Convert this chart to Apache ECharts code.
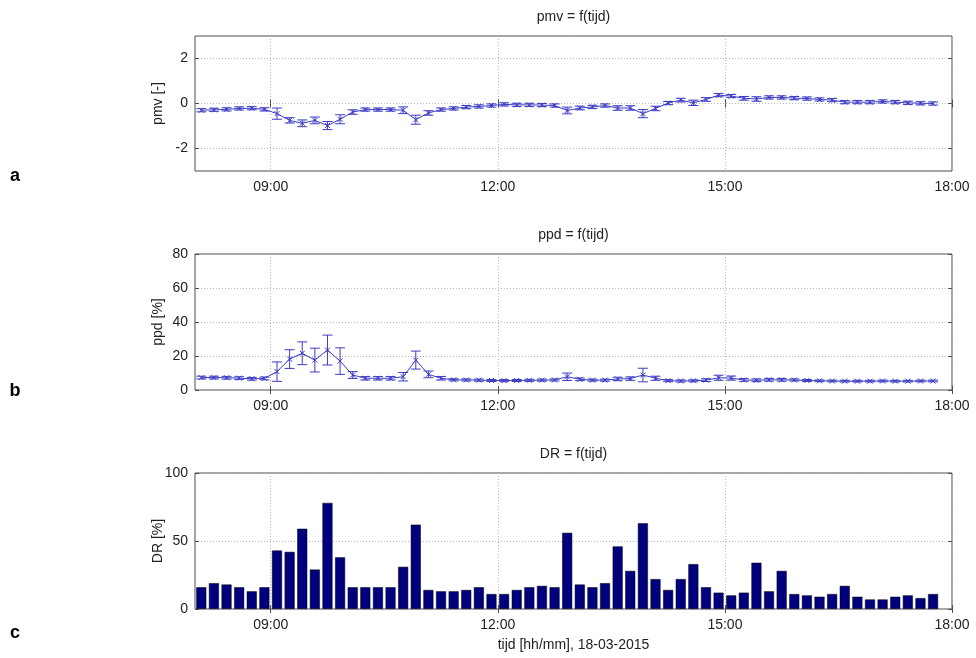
<!DOCTYPE html>
<html>
<head>
<meta charset="utf-8">
<script src="https://cdn.jsdelivr.net/npm/echarts@6/dist/echarts.min.js"></script>
<style>
  html, body { margin: 0; padding: 0; background: #fff; }
  #chart { width: 976px; height: 658px; }
</style>
</head>
<body>
<div id="chart"></div>
<script>
// meetmomenten (10 min intervallen)
var times = ['08:05', '08:15', '08:25', '08:35', '08:45', '08:55', '09:05', '09:15', '09:25', '09:35',
  '09:45', '09:55', '10:05', '10:15', '10:25', '10:35', '10:45', '10:55', '11:05', '11:15',
  '11:25', '11:35', '11:45', '11:55', '12:05', '12:15', '12:25', '12:35', '12:45', '12:55',
  '13:05', '13:15', '13:25', '13:35', '13:45', '13:55', '14:05', '14:15', '14:25', '14:35',
  '14:45', '14:55', '15:05', '15:15', '15:25', '15:35', '15:45', '15:55', '16:05', '16:15',
  '16:25', '16:35', '16:45', '16:55', '17:05', '17:15', '17:25', '17:35', '17:45'];

var pmvMean = [-0.30, -0.28, -0.26, -0.22, -0.21, -0.26, -0.45, -0.75, -0.88, -0.75,
  -0.98, -0.70, -0.38, -0.27, -0.27, -0.27, -0.30, -0.72, -0.42, -0.27,
  -0.22, -0.16, -0.13, -0.09, -0.04, -0.06, -0.06, -0.07, -0.09, -0.31,
  -0.20, -0.15, -0.09, -0.20, -0.20, -0.45, -0.22, 0.02, 0.15, 0.03,
  0.18, 0.37, 0.33, 0.23, 0.20, 0.27, 0.27, 0.24, 0.22, 0.18,
  0.15, 0.06, 0.06, 0.06, 0.09, 0.06, 0.03, 0.01, 0.00];
var pmvErr = [0.07, 0.07, 0.07, 0.07, 0.07, 0.07, 0.25, 0.12, 0.15, 0.15,
  0.18, 0.20, 0.10, 0.07, 0.07, 0.07, 0.15, 0.20, 0.10, 0.07,
  0.07, 0.07, 0.07, 0.07, 0.07, 0.07, 0.07, 0.07, 0.07, 0.15,
  0.08, 0.07, 0.07, 0.10, 0.10, 0.18, 0.10, 0.07, 0.08, 0.12,
  0.08, 0.07, 0.07, 0.08, 0.10, 0.07, 0.07, 0.07, 0.07, 0.07,
  0.07, 0.07, 0.07, 0.07, 0.07, 0.07, 0.07, 0.07, 0.07];

var ppdMean = [7.3, 7.3, 7.2, 7.0, 6.6, 6.8, 10.8, 18.2, 21.6, 17.6,
  23.5, 17.0, 8.8, 6.9, 6.9, 6.9, 7.8, 17.6, 9.2, 6.9,
  6.0, 5.9, 5.8, 5.6, 5.5, 5.6, 5.7, 5.8, 5.9, 7.8,
  6.3, 5.8, 5.8, 6.5, 6.7, 8.8, 6.9, 5.5, 5.3, 5.4,
  5.8, 7.2, 7.0, 5.9, 5.7, 6.0, 6.0, 5.9, 5.6, 5.4,
  5.3, 5.2, 5.2, 5.2, 5.3, 5.2, 5.2, 5.3, 5.3];
var ppdErr = [0.8, 0.8, 0.8, 0.8, 0.8, 0.8, 5.7, 5.5, 6.7, 7.0,
  8.8, 7.8, 2.0, 1.0, 1.0, 1.0, 2.5, 5.3, 2.0, 1.0,
  0.6, 0.6, 0.6, 0.6, 0.6, 0.6, 0.6, 0.6, 0.6, 2.2,
  0.8, 0.6, 0.6, 1.0, 1.0, 4.0, 1.2, 0.6, 0.6, 0.6,
  0.8, 1.5, 1.2, 0.8, 0.8, 0.8, 0.8, 0.6, 0.6, 0.5,
  0.5, 0.5, 0.5, 0.5, 0.5, 0.5, 0.5, 0.5, 0.5];

var drValues = [16, 19, 18, 16, 13, 16, 43, 42, 59, 29,
  78, 38, 16, 16, 16, 16, 31, 62, 14, 13,
  13, 14, 16, 11, 11, 14, 16, 17, 16, 56,
  18, 16, 19, 46, 28, 63, 22, 14, 22, 33,
  16, 12, 10, 12, 34, 13, 28, 11, 10, 9,
  11, 17, 9, 7, 7, 9, 10, 8, 11];

var xTicks = ['09:00', '12:00', '15:00', '18:00'];

function toMin(s) {
  var p = s.split(':');
  return +p[0] * 60 + +p[1];
}
function fmtMin(v) {
  var h = Math.floor(v / 60), m = Math.round(v % 60);
  return (h < 10 ? '0' : '') + h + ':' + (m < 10 ? '0' : '') + m;
}

var xMin = toMin('08:00'), xMax = toMin('18:00');
var xTickVals = xTicks.map(toMin);
var lineColor = '#3c3cc4';
var boxColor = '#4d4d4d';
var font = 'Liberation Sans, Arial, sans-serif';

var grids = [
  { left: 195, right: 24, top: 36, height: 135 },
  { left: 195, right: 24, top: 254, height: 136 },
  { left: 195, right: 24, top: 473, height: 136 }
];

var yDefs = [
  { min: -3, max: 3, ticks: [-2, 0, 2], name: 'pmv [-]' },
  { min: 0, max: 80, ticks: [0, 20, 40, 60, 80], name: 'ppd [%]' },
  { min: 0, max: 100, ticks: [0, 50, 100], name: 'DR [%]' }
];

var xAxes = [], yAxes = [];
grids.forEach(function(g, i) {
  // onderas met labels
  xAxes.push({
    type: 'value', gridIndex: i, min: xMin, max: xMax,
    axisLine: { show: false },
    axisTick: { show: true, inside: true, length: 4, customValues: xTickVals, lineStyle: { color: boxColor } },
    axisLabel: { customValues: xTickVals, formatter: fmtMin, color: '#222', fontSize: 14, fontFamily: font, margin: 9 },
    splitLine: { show: true, lineStyle: { color: '#b4b4b4', type: [1, 2] } },
    name: i === 2 ? 'tijd [hh/mm], 18-03-2015' : '',
    nameLocation: 'middle', nameGap: 29, nameMoveOverlap: false,
    nameTextStyle: { color: '#222', fontSize: 14, fontFamily: font }
  });
  // bovenas alleen ticks
  xAxes.push({
    type: 'value', gridIndex: i, min: xMin, max: xMax, position: 'top',
    axisLine: { show: false },
    axisTick: { show: true, inside: true, length: 4, customValues: xTickVals, lineStyle: { color: boxColor } },
    axisLabel: { show: false },
    splitLine: { show: false }
  });
  var d = yDefs[i];
  yAxes.push({
    type: 'value', gridIndex: i, min: d.min, max: d.max,
    axisLine: { show: false },
    axisTick: { show: true, inside: true, length: 4, customValues: d.ticks, lineStyle: { color: boxColor } },
    axisLabel: { customValues: d.ticks, color: '#222', fontSize: 14, fontFamily: font, margin: 7 },
    splitLine: { show: true, lineStyle: { color: '#b4b4b4', type: [1, 2] } },
    name: d.name, nameLocation: 'middle', nameGap: 30, nameMoveOverlap: false,
    nameTextStyle: { color: '#222', fontSize: 14, fontFamily: font }
  });
  yAxes.push({
    type: 'value', gridIndex: i, min: d.min, max: d.max, position: 'right',
    axisLine: { show: false },
    axisTick: { show: true, inside: true, length: 4, customValues: d.ticks, lineStyle: { color: boxColor } },
    axisLabel: { show: false },
    splitLine: { show: false }
  });
});

function errData(mean, err) {
  return times.map(function(t, i) {
    return [toMin(t), mean[i] - err[i], mean[i] + err[i], mean[i]];
  });
}

function renderErr(params, api) {
  var x = api.value(0);
  var lo = api.coord([x, api.value(1)]);
  var hi = api.coord([x, api.value(2)]);
  var mid = api.coord([x, api.value(3)]);
  var cap = 5, mk = 2.5;
  var st = { stroke: lineColor, lineWidth: 1, fill: null };
  return {
    type: 'group',
    children: [
      { type: 'line', shape: { x1: lo[0], y1: lo[1], x2: hi[0], y2: hi[1] }, style: st },
      { type: 'line', shape: { x1: lo[0] - cap, y1: lo[1], x2: lo[0] + cap, y2: lo[1] }, style: st },
      { type: 'line', shape: { x1: hi[0] - cap, y1: hi[1], x2: hi[0] + cap, y2: hi[1] }, style: st },
      { type: 'line', shape: { x1: mid[0] - mk, y1: mid[1] - mk, x2: mid[0] + mk, y2: mid[1] + mk }, style: st },
      { type: 'line', shape: { x1: mid[0] - mk, y1: mid[1] + mk, x2: mid[0] + mk, y2: mid[1] - mk }, style: st }
    ]
  };
}

function meanLine(mean, axisIdx) {
  return {
    type: 'line', xAxisIndex: axisIdx, yAxisIndex: axisIdx,
    data: times.map(function(t, i) { return [toMin(t), mean[i]]; }),
    symbol: 'none', lineStyle: { color: lineColor, width: 1 }, silent: true, animation: false
  };
}

var titles = ['pmv = f(tijd)', 'ppd = f(tijd)', 'DR = f(tijd)'];
var titleY = [17, 235, 454];
var letters = ['a', 'b', 'c'];
var letterY = [176, 391, 633];

var graphics = [];
titles.forEach(function(t, i) {
  graphics.push({
    type: 'text', x: 573.5, y: titleY[i],
    style: { text: t, fill: '#222', font: '14px ' + font, textAlign: 'center', textVerticalAlign: 'middle' }
  });
  graphics.push({
    type: 'text', x: 15, y: letterY[i],
    style: { text: letters[i], fill: '#000', font: 'bold 18px ' + font, textAlign: 'center', textVerticalAlign: 'middle' }
  });
});

var option = {
  animation: false,
  grid: grids.map(function(g) {
    return Object.assign({ show: true, borderColor: boxColor, borderWidth: 1, backgroundColor: '#fff' }, g);
  }),
  xAxis: xAxes,
  yAxis: yAxes,
  graphic: graphics,
  series: [
    meanLine(pmvMean, 0),
    { type: 'custom', xAxisIndex: 0, yAxisIndex: 0, renderItem: renderErr, data: errData(pmvMean, pmvErr), silent: true },
    meanLine(ppdMean, 2),
    { type: 'custom', xAxisIndex: 2, yAxisIndex: 2, renderItem: renderErr, data: errData(ppdMean, ppdErr), silent: true },
    {
      type: 'bar', xAxisIndex: 4, yAxisIndex: 4, barWidth: 10,
      data: times.map(function(t, i) { return [toMin(t), drValues[i]]; }),
      itemStyle: { color: '#00007e', borderColor: '#000', borderWidth: 0.5 },
      silent: true
    }
  ]
};

var myChart = echarts.init(document.getElementById('chart'));
myChart.setOption(option);
</script>
</body>
</html>
